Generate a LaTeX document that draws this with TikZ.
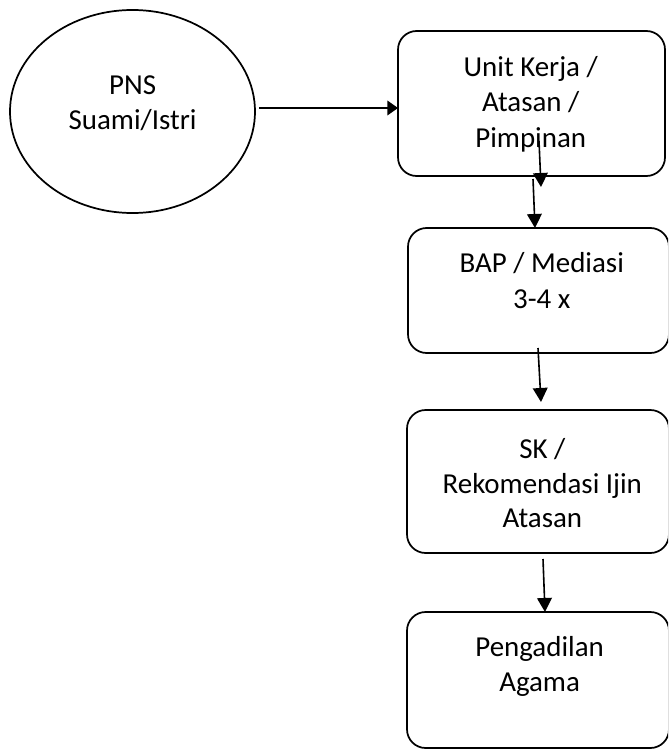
\documentclass[tikz,border=0pt]{standalone}
\usepackage{fontspec}
\setmainfont{Carlito}
\usetikzlibrary{arrows.meta,shapes.geometric}
\begin{document}
\begin{tikzpicture}[x=0.75pt,y=-0.75pt,
  shape line/.style={draw=black,line width=1.3pt},
  roundbox/.style={shape line,rectangle,rounded corners=14pt,inner sep=0pt},
  oval/.style={shape line,ellipse,inner sep=0pt,minimum width=183.75pt,minimum height=152.25pt},
  lbl/.style={anchor=base,font=\fontsize{21.7}{26}\selectfont,inner sep=0pt},
  conn/.style={line width=1.2pt,-{Triangle[length=10.5pt,width=11pt]}},
  hconn/.style={line width=1.2pt,-{Triangle[length=8pt,width=11pt]}}]
\useasboundingbox (0,0) rectangle (668,749);
\clip (0,0) rectangle (668,749);
% shapes
\node[oval] (pns) at (132.5,111.5) {};
\node[roundbox,minimum width=200.25pt,minimum height=108.75pt] (unit) at (531.5,103.5) {};
\node[roundbox,minimum width=195.75pt,minimum height=93.75pt] (bap) at (538.5,290.5) {};
\node[roundbox,minimum width=196.5pt,minimum height=107.25pt] (sk) at (538,481.5) {};
\node[roundbox,minimum width=196.5pt,minimum height=102pt] (pa) at (538,680) {};
% texts (one node per printed line, placed on its baseline)
\node[lbl] (tpns1) at (132.6,94) {PNS};
\node[lbl] (tpns2) at (132.6,129.3) {Suami/Istri};
\node[lbl] (tunit1) at (530.7,76.7) {Unit Kerja /};
\node[lbl] (tunit2) at (530.7,111.9) {Atasan /};
\node[lbl] (tunit3) at (530.7,147.4) {Pimpinan};
\node[lbl] (tbap1) at (541.8,272.7) {BAP / Mediasi};
\node[lbl] (tbap2) at (541.8,308) {3-4 x};
\node[lbl] (tsk1) at (542.3,458.3) {SK /};
\node[lbl] (tsk2) at (542.3,493.2) {Rekomendasi Ijin};
\node[lbl] (tsk3) at (542.3,527.3) {Atasan};
\node[lbl] (tpa1) at (539.6,656.7) {Pengadilan};
\node[lbl] (tpa2) at (539.6,691) {Agama};
% connector end points
\coordinate (a1s) at (259,108);
\coordinate (a1e) at (398,108);
\coordinate (a2s) at (539,141);
\coordinate (a2e) at (541,187);
\coordinate (a3s) at (533,179);
\coordinate (a3e) at (535,228);
\coordinate (a4s) at (538,348);
\coordinate (a4e) at (541,402);
\coordinate (a5s) at (543,559);
\coordinate (a5e) at (545,612);
\draw[hconn] (a1s) -- (a1e);
\draw[conn] (a2s) -- (a2e);
\draw[conn] (a3s) -- (a3e);
\draw[conn] (a4s) -- (a4e);
\draw[conn] (a5s) -- (a5e);
\end{tikzpicture}
\end{document}
